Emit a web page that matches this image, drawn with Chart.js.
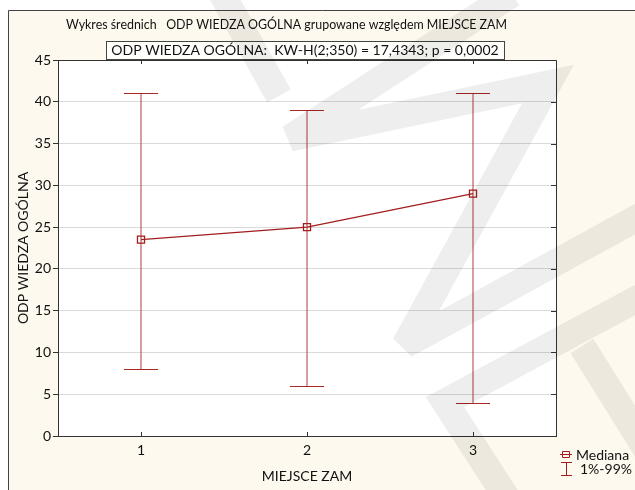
<!DOCTYPE html>
<html>
<head>
<meta charset="utf-8">
<script src="https://cdn.jsdelivr.net/npm/chart.js@4.4.0/dist/chart.umd.min.js"></script>
<style>
  html, body { margin: 0; padding: 0; background: #fff; }
  #wrap { width: 635px; height: 490px; }
</style>
</head>
<body>
<div id="wrap"><canvas id="medianChart"></canvas></div>
<script>
// data
var categories = ["1", "2", "3"];
var medians = [23.5, 25, 29];
var pct1 = [8, 6, 4];
var pct99 = [41, 39, 41];
var yMin = 0, yMax = 45, yStep = 5;

var titleText = "Wykres średnich   ODP WIEDZA OGÓLNA grupowane względem MIEJSCE ZAM";
var boxText = "ODP WIEDZA OGÓLNA:  KW-H(2;350) = 17,4343; p = 0,0002";
var xTitle = "MIEJSCE ZAM";
var yTitle = "ODP WIEDZA OGÓLNA";
var legendLabels = ["Mediana", "1%-99%"];

var FONT = "Lato, 'Open Sans', sans-serif";
var RED = "#a31d1d";
var BAR_RED = "#b43a3a";
var CAP_RED = "#a82626";
var AXIS = "#333333";

// draw text squeezed to a given width (title font is narrower in the original)
function squeezeText(c, text, cx, cy, width) {
  var w = c.measureText(text).width;
  var s = Math.min(1, width / w);
  c.save();
  c.translate(cx, cy);
  c.scale(s, 1);
  c.fillText(text, 0, 0);
  c.restore();
}

var decor = {
  id: 'decor',
  beforeDraw: function(chart) {
    var c = chart.ctx, a = chart.chartArea;
    c.save();
    c.fillStyle = "#ffffff";
    c.fillRect(0, 0, chart.width, chart.height);
    c.fillStyle = "#fdf9ee";
    c.fillRect(8, 10, chart.width, chart.height);
    c.strokeStyle = "#444";
    c.lineWidth = 1;
    c.beginPath();
    c.moveTo(8.5, chart.height + 2);
    c.lineTo(8.5, 10.5);
    c.lineTo(chart.width + 2, 10.5);
    c.stroke();
    // plot area
    c.fillStyle = "#ffffff";
    c.fillRect(a.left, a.top, a.right - a.left, a.bottom - a.top);
    // title
    c.fillStyle = "#111";
    c.textAlign = "center";
    c.textBaseline = "middle";
    c.font = "14px " + FONT;
    squeezeText(c, titleText, 286.5, 24, 441);
    // boxed statistic
    c.fillStyle = "#fffffc";
    c.fillRect(106, 41, 398, 18);
    c.strokeStyle = "#444";
    c.strokeRect(106.5, 41.5, 398, 18);
    c.fillStyle = "#111";
    c.fillText(boxText, 305, 50.5);
    c.restore();
  },
  beforeDatasetsDraw: function(chart) {
    var c = chart.ctx, xs = chart.scales.x, ys = chart.scales.y;
    c.save();
    c.lineWidth = 1;
    for (var i = 0; i < categories.length; i++) {
      var x = Math.round(xs.getPixelForValue(i));
      var yl = Math.round(ys.getPixelForValue(pct1[i])) + 0.5;
      var yh = Math.round(ys.getPixelForValue(pct99[i])) + 0.5;
      c.strokeStyle = BAR_RED;
      c.beginPath();
      c.moveTo(x, yl); c.lineTo(x, yh);
      c.stroke();
      c.strokeStyle = CAP_RED;
      c.beginPath();
      c.moveTo(x - 17, yl); c.lineTo(x + 17, yl);
      c.moveTo(x - 17, yh); c.lineTo(x + 17, yh);
      c.stroke();
    }
    c.restore();
  },
  afterDraw: function(chart) {
    var c = chart.ctx, a = chart.chartArea, xs = chart.scales.x, ys = chart.scales.y;
    c.save();
    // frame + inner ticks
    c.strokeStyle = AXIS;
    c.lineWidth = 1;
    c.beginPath();
    c.moveTo(a.left, a.top + 0.5); c.lineTo(a.right + 0.5, a.top + 0.5);
    c.lineTo(a.right + 0.5, a.bottom);
    for (var i = 0; i < categories.length; i++) {
      var x = Math.round(xs.getPixelForValue(i)) + 0.5;
      c.moveTo(x, a.top); c.lineTo(x, a.top + 4);
      c.moveTo(x, a.bottom); c.lineTo(x, a.bottom - 4);
    }
    for (var v = yMin; v <= yMax; v += yStep) {
      var y = Math.round(ys.getPixelForValue(v)) + 0.5;
      c.moveTo(a.right, y); c.lineTo(a.right - 5, y);
    }
    c.stroke();

    // legend
    c.strokeStyle = RED;
    c.beginPath();
    c.rect(562.5, 451.5, 7, 6);
    c.moveTo(560, 454.5); c.lineTo(572, 454.5);
    c.moveTo(566.5, 462); c.lineTo(566.5, 476);
    c.moveTo(561, 462.5); c.lineTo(572, 462.5);
    c.moveTo(561, 475.5); c.lineTo(572, 475.5);
    c.stroke();
    c.fillStyle = "#111";
    c.font = "14px " + FONT;
    c.textAlign = "left";
    c.textBaseline = "middle";
    c.fillText(legendLabels[0], 576, 455);
    c.fillText(legendLabels[1], 580, 469);

    // faint watermark
    c.strokeStyle = "rgba(0,0,0,0.065)";
    c.lineWidth = 27;
    c.lineJoin = "miter";
    c.miterLimit = 3;
    var marks = [
      [[221, -8], [279, 96]],
      [[512, -6], [290, 138], [548, 84], [405, 345], [648, 212]],
      [[648, 293], [445, 402], [508, 500]],
      [[582, 346], [648, 452]]
    ];
    marks.forEach(function(pts) {
      c.beginPath();
      c.moveTo(pts[0][0], pts[0][1]);
      for (var k = 1; k < pts.length; k++) c.lineTo(pts[k][0], pts[k][1]);
      c.stroke();
    });
    c.restore();
  }
};

function makeChart() {
  var ctx = document.getElementById("medianChart");
  new Chart(ctx, {
    type: 'line',
    data: {
      labels: categories,
      datasets: [
        {
          label: legendLabels[0],
          data: medians,
          borderColor: RED,
          borderWidth: 1.2,
          pointStyle: 'rect',
          pointRadius: 5,
          pointBorderWidth: 1.3,
          pointBorderColor: RED,
          pointBackgroundColor: 'rgba(0,0,0,0)',
          tension: 0
        }
      ]
    },
    options: {
      responsive: true,
      maintainAspectRatio: false,
      animation: false,
      layout: {
        padding: { left: 8, top: 60, right: 79, bottom: 0 }
      },
      plugins: {
        legend: { display: false },
        tooltip: { enabled: false }
      },
      scales: {
        x: {
          offset: true,
          grid: { display: false, drawTicks: false },
          border: { display: true, color: AXIS },
          ticks: { color: '#111', font: { family: FONT, size: 14 }, padding: 6 },
          title: {
            display: true,
            text: xTitle,
            color: '#111',
            font: { family: FONT, size: 14 },
            padding: { top: 0, bottom: 5 }
          },
          afterFit: function(scale) { scale.height = 54; }
        },
        y: {
          min: yMin,
          max: yMax,
          grid: { color: '#dadada', tickColor: AXIS, tickLength: 5 },
          border: { display: true, color: AXIS },
          ticks: { stepSize: yStep, color: '#111', font: { family: FONT, size: 14 }, padding: 2 },
          title: {
            display: true,
            text: yTitle,
            color: '#111',
            font: { family: FONT, size: 14 },
            padding: { top: 7, bottom: 0 }
          },
          afterFit: function(scale) { scale.width = 50; }
        }
      }
    },
    plugins: [decor]
  });
}

if (document.fonts && document.fonts.load) {
  document.fonts.load("14px Lato").then(makeChart, makeChart);
} else {
  makeChart();
}
</script>
</body>
</html>
